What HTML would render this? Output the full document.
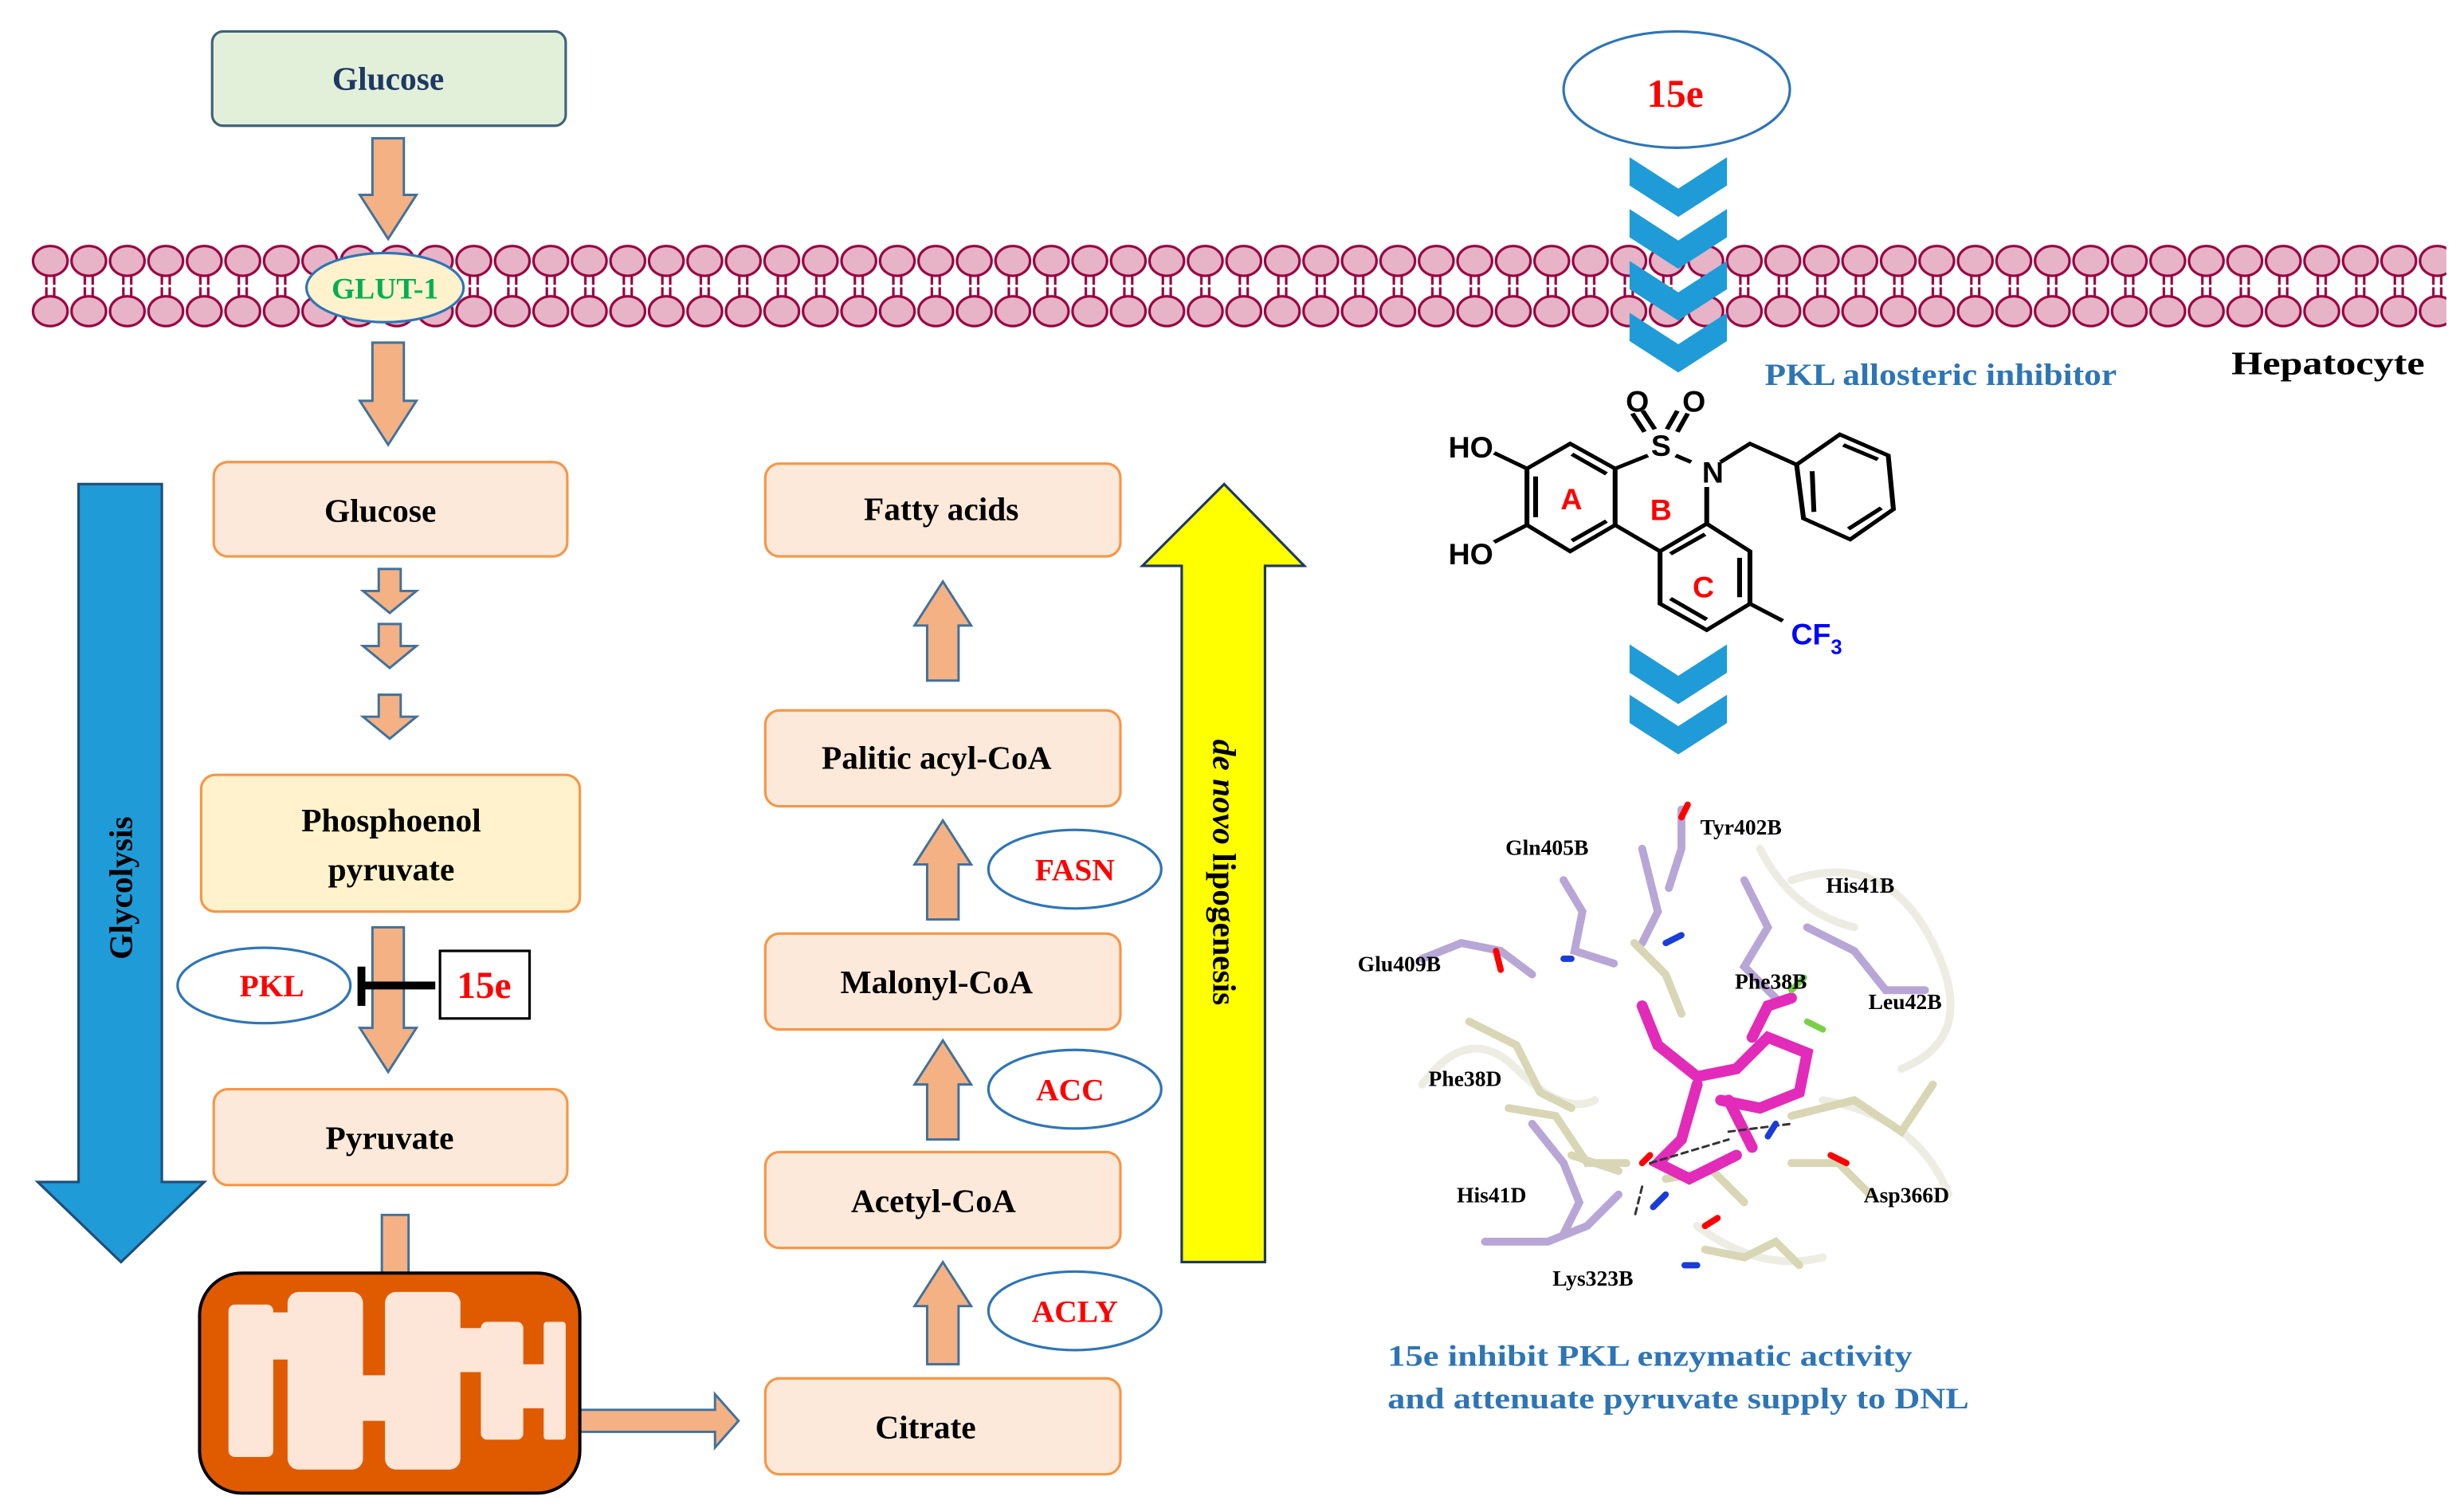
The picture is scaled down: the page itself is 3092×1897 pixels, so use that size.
<!DOCTYPE html>
<html><head><meta charset="utf-8"><style>html,body{margin:0;padding:0;background:#fff}svg{display:block}</style></head><body>
<svg width="3092" height="1897" viewBox="0 0 1568 962" preserveAspectRatio="none" xmlns="http://www.w3.org/2000/svg" font-family="Liberation Serif, serif" font-weight="bold">
<defs>
<pattern id="mp" patternUnits="userSpaceOnUse" x="19.75" y="153" width="24.5" height="58">
<g stroke="#99003f" stroke-width="1.6">
<line x1="9.75" y1="22" x2="9.75" y2="36" /><line x1="14.75" y1="22" x2="14.75" y2="36"/>
<ellipse cx="12.25" cy="13" rx="11" ry="9.5" fill="#e6b3c7"/><ellipse cx="12.25" cy="45" rx="11" ry="9.5" fill="#e6b3c7"/>
</g>
<line x1="7" y1="29" x2="18" y2="29" stroke="#fff" stroke-width="1.5"/>
</pattern>
</defs>
<rect width="1568" height="962" fill="#fff"/>
<rect x="19.75" y="153" width="1537" height="58" fill="url(#mp)"/>
<!-- top glucose -->
<rect x="135" y="20" width="225" height="60" rx="7" fill="#e2f0d9" stroke="#41617a" stroke-width="1.6"/>
<text x="247" y="57" text-anchor="middle" font-size="21" fill="#1f3864">Glucose</text>
<g fill="#f4b183" stroke="#41719c" stroke-width="1.5">
<path d="M237,88 H257 V124 H265 L247,152 L229,124 H237 Z"/>
<path d="M237,218 H257 V255 H265 L247,283 L229,255 H237 Z"/>
<path d="M241,362 H255 V376 H265 L248,390 L231,376 H241 Z"/>
<path d="M241,397 H255 V411 H265 L248,425 L231,411 H241 Z"/>
<path d="M241,442 H255 V456 H265 L248,470 L231,456 H241 Z"/>
<path d="M237,590 H257 V654 H265 L247,682 L229,654 H237 Z"/>
<rect x="243" y="773" width="17" height="40"/>
<path d="M369,897 H455 V887 L470,904 L455,921 V911 H369 Z"/>
<path d="M590,433 H610 V398 H618 L600,370 L582,398 H590 Z"/>
<path d="M590,585 H610 V550 H618 L600,522 L582,550 H590 Z"/>
<path d="M590,725 H610 V690 H618 L600,662 L582,690 H590 Z"/>
<path d="M590,868 H610 V831 H618 L600,803 L582,831 H590 Z"/>
</g>
<ellipse cx="245" cy="183" rx="50" ry="22" fill="#fff2cc" stroke="#2e75b6" stroke-width="1.6"/>
<text x="245" y="190" text-anchor="middle" font-size="19" fill="#00b050">GLUT-1</text>
<!-- boxes -->
<g stroke="#f79646" stroke-width="1.6">
<rect x="136" y="294" width="225" height="60" rx="9" fill="#fde9d9"/>
<rect x="128" y="493" width="241" height="87" rx="9" fill="#fff2cc"/>
<rect x="136" y="693" width="225" height="61" rx="9" fill="#fde9d9"/>
<rect x="487" y="295" width="226" height="59" rx="9" fill="#fde9d9"/>
<rect x="487" y="452" width="226" height="61" rx="9" fill="#fde9d9"/>
<rect x="487" y="594" width="226" height="61" rx="9" fill="#fde9d9"/>
<rect x="487" y="733" width="226" height="61" rx="9" fill="#fde9d9"/>
<rect x="487" y="877" width="226" height="61" rx="9" fill="#fde9d9"/>
</g>
<g font-size="21" fill="#000" text-anchor="middle">
<text x="242" y="332">Glucose</text>
<text x="249" y="529">Phosphoenol</text>
<text x="249" y="560">pyruvate</text>
<text x="248" y="731">Pyruvate</text>
<text x="599" y="331">Fatty acids</text>
<text x="596" y="489">Palitic acyl-CoA</text>
<text x="596" y="632">Malonyl-CoA</text>
<text x="594" y="771">Acetyl-CoA</text>
<text x="589" y="915">Citrate</text>
</g>
<!-- PKL / 15e -->
<ellipse cx="168" cy="627" rx="55" ry="24" fill="#fff" stroke="#2e75b6" stroke-width="1.6"/>
<text x="173" y="634" text-anchor="middle" font-size="20" fill="#ff0000">PKL</text>
<line x1="230" y1="627" x2="277" y2="627" stroke="#000" stroke-width="5"/>
<line x1="230" y1="615" x2="230" y2="640" stroke="#000" stroke-width="5"/>
<rect x="280" y="605" width="57" height="43" fill="#fff" stroke="#000" stroke-width="1.6"/>
<text x="308" y="635" text-anchor="middle" font-size="24" fill="#ff0000">15e</text>
<!-- enzyme ellipses -->
<g fill="#fff" stroke="#2e75b6" stroke-width="1.6">
<ellipse cx="684" cy="553" rx="55" ry="25"/>
<ellipse cx="684" cy="693" rx="55" ry="25"/>
<ellipse cx="684" cy="834" rx="55" ry="25"/>
<ellipse cx="1067" cy="57" rx="72" ry="37"/>
</g>
<g fill="#ff0000" text-anchor="middle" font-size="20">
<text x="684" y="560">FASN</text>
<text x="681" y="700">ACC</text>
<text x="684" y="841">ACLY</text>
<text x="1066" y="68" font-size="25">15e</text>
</g>
<!-- big arrows -->
<polygon points="50,308 103,308 103,752 130,752 77,803 24,752 50,752" fill="#1f9bd7" stroke="#1f4e79" stroke-width="1.6"/>
<text transform="translate(84,565) rotate(-90)" text-anchor="middle" font-size="21">Glycolysis</text>
<polygon points="752,803 805,803 805,360 830,360 779,308 727,360 752,360" fill="#ffff00" stroke="#1f3864" stroke-width="1.6"/>
<text transform="translate(772,555) rotate(90)" text-anchor="middle" font-size="21"><tspan font-style="italic">de novo</tspan> lipogenesis</text>
<!-- mitochondria -->
<rect x="127" y="810" width="242" height="140" rx="27" fill="#e05a00" stroke="#000" stroke-width="2"/>
<g fill="#fde6d8">
<rect x="145.4" y="830" width="28.5" height="97" rx="4"/>
<rect x="173" y="835" width="11" height="30"/>
<rect x="183" y="822" width="48" height="113" rx="7"/>
<rect x="230" y="875" width="16" height="29"/>
<rect x="245" y="822" width="48" height="113" rx="7"/>
<rect x="292" y="845" width="15" height="28"/>
<rect x="306" y="841" width="27" height="75" rx="4"/>
<rect x="332" y="868" width="15" height="28"/>
<rect x="346" y="841" width="14" height="75" rx="2"/>
</g>
<!-- chevrons -->
<g fill="#1f9bd7">
<polygon points="1037,100 1068,120 1099,100 1099,118 1068,138 1037,118"/>
<polygon points="1037,133 1068,153 1099,133 1099,151 1068,171 1037,151"/>
<polygon points="1037,166 1068,186 1099,166 1099,184 1068,204 1037,184"/>
<polygon points="1037,199 1068,219 1099,199 1099,217 1068,237 1037,217"/>
<polygon points="1037,410 1068,430 1099,410 1099,428 1068,448 1037,428"/>
<polygon points="1037,442 1068,462 1099,442 1099,460 1068,480 1037,460"/>
</g>
<text x="1123" y="245" font-size="20" fill="#2e75b6" textLength="224" lengthAdjust="spacingAndGlyphs">PKL allosteric inhibitor</text>
<text x="1420" y="238" font-size="21" fill="#000" textLength="123" lengthAdjust="spacingAndGlyphs">Hepatocyte</text>
<!-- molecule -->
<g transform="translate(887,228) scale(0.22,0.167)" stroke="#000" fill="none" stroke-width="14">
<polyline points="385,420 510,325 640,420 640,635 510,735 385,635 385,420"/>
<line x1="410" y1="450" x2="410" y2="605"/><line x1="515" y1="365" x2="615" y2="440"/><line x1="515" y1="695" x2="615" y2="620"/>
<line x1="290" y1="360" x2="385" y2="420"/><line x1="290" y1="700" x2="385" y2="635"/>
<line x1="640" y1="420" x2="735" y2="370"/>
<line x1="725" y1="280" x2="690" y2="210"/><line x1="755" y1="270" x2="720" y2="200"/>
<line x1="790" y1="270" x2="820" y2="200"/><line x1="820" y1="280" x2="850" y2="210"/>
<line x1="815" y1="370" x2="860" y2="395"/>
<polyline points="945,395 1030,325 1165,405"/>
<polyline points="1165,405 1290,290 1430,370 1445,575 1320,690 1185,610 1165,405"/>
<line x1="1300" y1="330" x2="1400" y2="385"/><line x1="1410" y1="570" x2="1315" y2="650"/><line x1="1210" y1="430" x2="1215" y2="585"/>
<line x1="905" y1="490" x2="905" y2="630"/>
<polyline points="905,630 1030,735 1030,935 905,1035 770,935 770,735 905,630"/>
<line x1="1000" y1="760" x2="1000" y2="910"/><line x1="800" y1="915" x2="905" y2="995"/><line x1="800" y1="745" x2="900" y2="670"/>
<line x1="770" y1="735" x2="640" y2="635"/>
<line x1="1030" y1="935" x2="1125" y2="1000"/>
</g>
<g font-family="Liberation Sans, sans-serif" font-weight="bold" font-size="19" fill="#000" text-anchor="middle">
<text x="936" y="291">HO</text><text x="936" y="359">HO</text>
<text x="1042" y="262">O</text><text x="1078" y="262">O</text>
<text x="1057" y="290">S</text><text x="1090" y="307">N</text>
<text x="1156" y="410" fill="#0000ff">CF<tspan font-size="13" dy="6">3</tspan></text>
<text x="1000" y="324" fill="#ff0000">A</text><text x="1057" y="331" fill="#ff0000">B</text><text x="1084" y="380" fill="#ff0000">C</text>
</g>
<!-- protein -->
<g fill="none" stroke-linecap="round">
<g stroke="#e8e8dc" stroke-width="5" opacity="0.8">
<path d="M905,690 q30,-40 60,-10 t50,20"/><path d="M1140,560 q60,-20 90,40 t-20,80"/><path d="M1160,700 q60,10 80,60"/><path d="M1080,780 q40,30 80,20"/><path d="M1120,540 q20,40 60,50"/>
</g>
<g stroke="#b7a6d6" stroke-width="5">
<path d="M995,560 l12,20 l-5,25 l25,8"/><path d="M1045,540 l10,40 l-10,20"/><path d="M1110,560 l15,30 l-15,25 l20,20"/><path d="M1150,590 l30,15 l20,25 l25,0"/><path d="M905,610 l25,-10 l25,5 l20,15"/><path d="M975,715 l20,25 l10,25 l-10,20"/><path d="M945,790 l40,0 l25,-10 l20,-20"/><path d="M1070,515 l0,25 l-8,25"/>
</g>
<g stroke="#d9d6b5" stroke-width="5">
<path d="M935,650 l30,15 l15,30 l20,10"/><path d="M960,705 l30,5 l20,30 l25,0"/><path d="M1040,600 l20,20 l10,25"/><path d="M1140,710 l40,-10 l30,20 l20,-30"/><path d="M1085,795 l25,5 l20,-10 l15,15"/><path d="M1140,740 l30,0 l20,20"/><path d="M1060,750 l30,-5 l20,20"/><path d="M1000,735 l30,10"/>
</g>
<g stroke="#e22bb8" stroke-width="7">
<path d="M1045,640 l10,25 l25,20 l25,-5 l20,-20 l25,10 l-5,25 l-25,10 l-25,-5"/><path d="M1080,690 l-10,35 l-15,15 l20,10 l30,-15"/><path d="M1115,660 l10,-20 l15,-5"/><path d="M1100,700 l15,30"/>
</g>
<path d="M1050,740 l50,-15 M1100,720 l40,-5 M1045,755 l-5,20" stroke="#333" stroke-width="1.5" stroke-dasharray="4,3"/>
<g stroke="#ff0000" stroke-width="4"><path d="M1070,520 l4,-8 M952,605 l3,12 M1165,735 l10,5 M1050,735 l-5,5 M1085,780 l8,-5"/></g>
<g stroke="#1a3cd8" stroke-width="4"><path d="M1060,760 l-8,8 M1130,715 l-5,8 M1060,600 l10,-5 M1080,805 l-8,0 M1000,610 l-5,0"/></g>
<g stroke="#7ad147" stroke-width="4"><path d="M1140,630 l8,-8 M1150,650 l10,5"/></g>
</g>
<g font-size="14" fill="#000">
<text x="958" y="544">Gln405B</text><text x="1082" y="531">Tyr402B</text><text x="1162" y="568">His41B</text>
<text x="864" y="618">Glu409B</text><text x="1104" y="629">Phe38B</text><text x="1189" y="642">Leu42B</text>
<text x="909" y="691">Phe38D</text><text x="927" y="765">His41D</text><text x="1186" y="765">Asp366D</text>
<text x="988" y="818">Lys323B</text>
</g>
<g font-size="19" fill="#2e75b6">
<text x="883" y="869" textLength="334" lengthAdjust="spacingAndGlyphs">15e inhibit  PKL enzymatic activity</text>
<text x="883" y="896" textLength="370" lengthAdjust="spacingAndGlyphs">and attenuate pyruvate supply  to DNL</text>
</g>
</svg>
</body></html>
